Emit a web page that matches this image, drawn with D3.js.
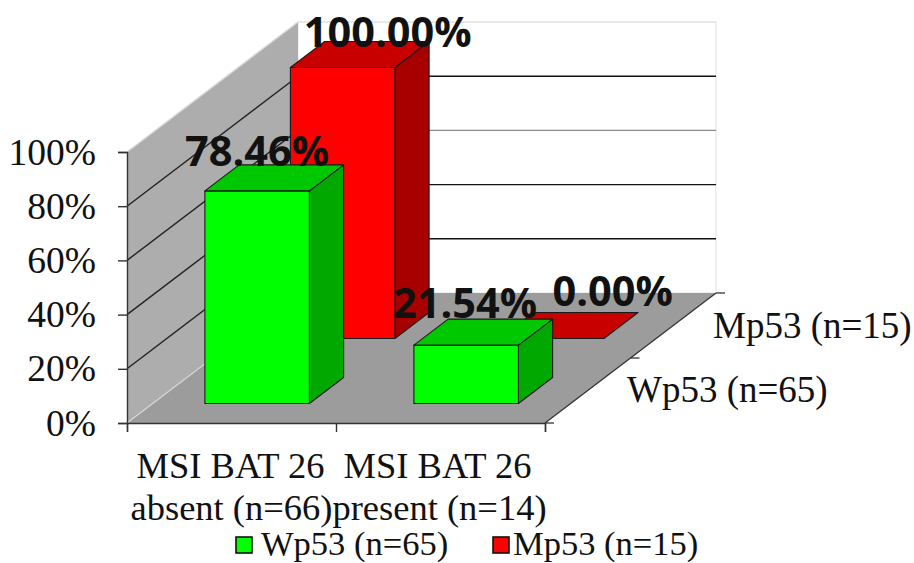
<!DOCTYPE html>
<html>
<head>
<meta charset="utf-8">
<script src="https://cdn.jsdelivr.net/npm/d3@7"></script>
<style>
  html, body { margin: 0; padding: 0; background: #fff; }
  svg { display: block; }
  text { font-family: "Liberation Serif", serif; fill: #111; }
</style>
</head>
<body>
<script>
// chart data
const categories = ['MSI BAT 26 absent (n=66)', 'MSI BAT 26 present (n=14)'];
const categoryLines = [['MSI BAT 26', 'absent (n=66)'], ['MSI BAT 26', 'present (n=14)']];
const seriesNames = ['Wp53 (n=65)', 'Mp53 (n=15)'];
const wp53Values = [78.46, 21.54];
const mp53Values = [100, 0];
const yTicks = [0, 20, 40, 60, 80, 100];

const width = 914, height = 563;

// front plane of the box, and how far the depth axis pushes things
const originX = 127, frontRight = 545, floorY = 423, wallTop = 152;
const depthX = 171, depthY = -130;

const xScale = d3.scaleBand().domain(categories).range([originX, frontRight]).paddingInner(0.5).paddingOuter(0.25);
const yScale = d3.scaleLinear().domain([0, 100]).range([floorY, wallTop]);
const zScale = d3.scaleBand().domain(seriesNames).range([0, 1]).paddingInner(0.6).paddingOuter(0.3);

const px = (x, z) => x + z * depthX;
const py = (y, z) => y + z * depthY;
const pts = (list) => list.map(p => [px(p[0], p[1]), py(p[2], p[1])].join(',')).join(' ');

const svg = d3.select('body').append('svg').attr('width', width).attr('height', height);

// back wall
svg.append('polygon')
  .attr('points', pts([[originX, 1, floorY], [frontRight, 1, floorY], [frontRight, 1, wallTop], [originX, 1, wallTop]]))
  .attr('fill', '#fff').attr('stroke', '#e2e2e2');

// side wall
svg.append('polygon')
  .attr('points', pts([[originX, 0, floorY], [originX, 1, floorY], [originX, 1, wallTop], [originX, 0, wallTop]]))
  .attr('fill', '#adadad');

// floor
svg.append('polygon')
  .attr('points', pts([[originX, 0, floorY], [frontRight, 0, floorY], [frontRight, 1, floorY], [originX, 1, floorY]]))
  .attr('fill', '#9c9c9c');

// grid lines on both walls
yTicks.forEach(t => {
  if (t === 0) return;
  const y = yScale(t);
  const col = t === 100 ? '#e6e6e6' : (t === 60 ? '#8a8a8a' : '#111');
  svg.append('line').attr('x1', px(originX, 0)).attr('y1', y).attr('x2', px(originX, 1)).attr('y2', py(y, 1))
    .attr('stroke', t === 100 ? '#d8d8d8' : '#222').attr('stroke-width', 1.4);
  svg.append('line').attr('x1', px(originX, 1)).attr('y1', py(y, 1)).attr('x2', px(frontRight, 1)).attr('y2', py(y, 1))
    .attr('stroke', col).attr('stroke-width', 1.4);
});
// pale seam between wall and floor
svg.append('line').attr('x1', originX).attr('y1', floorY).attr('x2', px(originX, 1)).attr('y2', py(floorY, 1))
  .attr('stroke', '#d6d6d6').attr('stroke-width', 1.2);

// bars, back series first so the front ones sit on top
const barColors = {
  'Wp53 (n=65)': { front: '#00ff00', top: '#00c800', side: '#00a800' },
  'Mp53 (n=15)': { front: '#ff0000', top: '#c80000', side: '#a80000' }
};
const seriesValues = { 'Wp53 (n=65)': wp53Values, 'Mp53 (n=15)': mp53Values };

[seriesNames[1], seriesNames[0]].forEach(name => {
  const z0 = zScale(name), z1 = z0 + zScale.bandwidth();
  const c = barColors[name];
  const g = svg.append('g');
  g.selectAll('g').data(seriesValues[name]).join('g').each(function(d, i) {
    const x0 = xScale(categories[i]), x1 = x0 + xScale.bandwidth();
    const yb = yScale(0), yt = yScale(d);
    const b = d3.select(this).attr('stroke', '#1a1a1a').attr('stroke-width', 1.1).attr('stroke-linejoin', 'round');
    if (d > 0) {
      b.append('polygon').attr('fill', c.side)
        .attr('points', pts([[x1, z0, yb], [x1, z1, yb], [x1, z1, yt], [x1, z0, yt]]));
      b.append('polygon').attr('fill', c.front)
        .attr('points', pts([[x0, z0, yb], [x1, z0, yb], [x1, z0, yt], [x0, z0, yt]]));
    }
    b.append('polygon').attr('fill', c.top)
      .attr('points', pts([[x0, z0, yt], [x1, z0, yt], [x1, z1, yt], [x0, z1, yt]]));
  });
});

// axes
const yAxis = svg.append('g').attr('transform', `translate(${originX},0)`)
  .call(d3.axisLeft(yScale).tickValues(yTicks).tickSize(9).tickPadding(22).tickFormat(d => d + '%'));
yAxis.selectAll('text').attr('font-size', 37.5).attr('font-family', '"Liberation Serif", serif').attr('fill', '#111');

const xEdges = d3.scaleLinear().domain([0, categories.length]).range([originX, frontRight]);
const xAxis = svg.append('g').attr('transform', `translate(0,${floorY})`)
  .call(d3.axisBottom(xEdges).tickValues(d3.range(categories.length + 1)).tickSize(9).tickFormat(''));

[yAxis, xAxis].forEach(a => {
  a.selectAll('line,path').attr('stroke', '#333').attr('stroke-width', 1.4);
});

// depth axis
svg.append('line').attr('x1', px(frontRight, 0)).attr('y1', py(floorY, 0)).attr('x2', px(frontRight, 1)).attr('y2', py(floorY, 1))
  .attr('stroke', '#333').attr('stroke-width', 1.3);
svg.selectAll('line.ztick').data([0, 0.5, 1]).join('line').attr('class', 'ztick')
  .attr('x1', d => px(frontRight, d)).attr('y1', d => py(floorY, d))
  .attr('x2', d => px(frontRight, d) + 9).attr('y2', d => py(floorY, d))
  .attr('stroke', '#333').attr('stroke-width', 1.3);

// category labels, two lines each
const catLineOffset = [[-1, 0], [-3, -1]];
const catLineY = [478, 520];
categoryLines.forEach((lines, i) => {
  lines.forEach((t, j) => {
    svg.append('text').attr('x', xScale(categories[i]) + xScale.bandwidth() / 2 + catLineOffset[i][j])
      .attr('y', catLineY[j]).attr('text-anchor', 'middle').attr('font-size', 36.5).text(t);
  });
});

// series labels along the depth axis
const depthLabelX = [627, 713], depthLabelY = [402, 338];
seriesNames.forEach((n, i) => {
  svg.append('text').attr('x', depthLabelX[i]).attr('y', depthLabelY[i]).attr('font-size', 37).text(n);
});

// data labels
const labelNudge = { 'Wp53 (n=65)': [[0, -25], [-1, -27]], 'Mp53 (n=15)': [[45, -21], [61, -33]] };
seriesNames.forEach(name => {
  seriesValues[name].forEach((d, i) => {
    const x = px(xScale(categories[i]) + xScale.bandwidth() / 2, zScale(name));
    const y = py(yScale(d), zScale(name));
    svg.append('text').attr('x', x + labelNudge[name][i][0]).attr('y', y + labelNudge[name][i][1])
      .attr('text-anchor', 'middle')
      .attr('font-weight', 700)
      .attr('font-size', 41.5).attr('fill', '#000')
      .style('font-family', '"Open Sans", sans-serif')
      .text(d3.format('.2f')(d) + '%');
  });
});

// legend
const legendX = [236, 493], legendTextX = [261, 513];
seriesNames.forEach((n, i) => {
  svg.append('rect').attr('x', legendX[i]).attr('y', 537).attr('width', 16).attr('height', 16)
    .attr('fill', barColors[n].front).attr('stroke', '#111').attr('stroke-width', 1.6);
  svg.append('text').attr('x', legendTextX[i]).attr('y', 555).attr('font-size', 34.5).text(n);
});
</script>
</body>
</html>
